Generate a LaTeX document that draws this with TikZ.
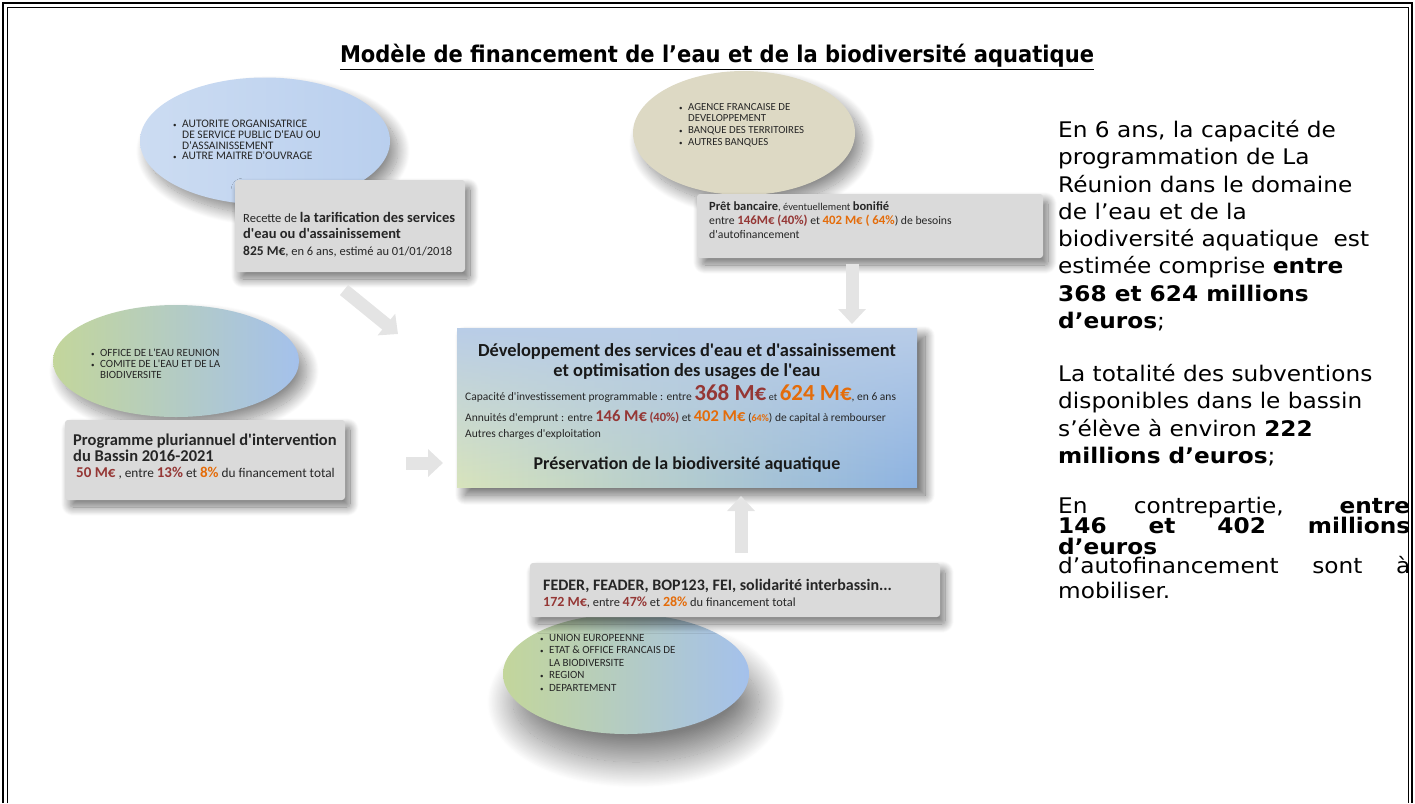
\documentclass[tikz,border=0pt]{standalone}
\usepackage{fontspec}
\setmainfont{Carlito}[Ligatures=TeXOff]
\newfontfamily\verd{DejaVu Sans}[FakeStretch=1.08]
\newfontfamily\verdT{DejaVu Sans}
\usetikzlibrary{arrows.meta,shapes.geometric,shadows.blur,fadings}

\definecolor{rougeM}{HTML}{953735}
\definecolor{orangeM}{HTML}{E46C0A}
\definecolor{grisB}{HTML}{DADADA}
\definecolor{bleuC}{HTML}{CCDCF2}
\definecolor{bleuD}{HTML}{B9CFEE}
\definecolor{beigeC}{HTML}{DDD9C4}
\definecolor{vertC}{HTML}{C3D69B}
\definecolor{bleuE}{HTML}{A4C1EC}
\definecolor{bleuF}{HTML}{8DB3E2}
\definecolor{bleuP}{HTML}{B9CDE8}
\definecolor{vertP}{HTML}{D8E4BC}
\definecolor{flecheC}{HTML}{E4E4E4}

\newcommand{\rg}[1]{\textcolor{rougeM}{\bfseries #1}}
\newcommand{\og}[1]{\textcolor{orangeM}{\bfseries #1}}
\newcommand{\fs}[1]{\fontsize{#1}{#1}\selectfont}
\newcommand{\pu}{\makebox[9pt][l]{\fs{7}•}}
\newcommand{\ind}{\hspace*{9pt}}

\tikzstyle{ellS}=[ellipse, inner sep=0pt, blur shadow={shadow xshift=8pt, shadow yshift=-10pt, shadow blur radius=12pt, shadow blur steps=24, shadow opacity=45}]
\tikzstyle{ellB}=[ellipse, inner sep=0pt, blur shadow={shadow xshift=10pt, shadow yshift=-28pt, shadow blur radius=26pt, shadow blur steps=40, shadow opacity=50}]
\tikzstyle{boxS}=[rectangle, rounded corners=3pt, inner sep=0pt, fill=grisB, blur shadow={shadow xshift=5pt, shadow yshift=-7pt, shadow blur radius=9pt, shadow blur steps=20, shadow opacity=55}]
\tikzstyle{puceS}=[inner sep=0pt, align=left, anchor=north west, text=black!85]
\tikzstyle{txtS}=[inner sep=0pt, align=left, anchor=north west, text=black!85]
\tikzstyle{verdS}=[inner sep=0pt, align=left, anchor=north west, font=\verd\fontsize{21.5}{27.3}\selectfont]
\tikzstyle{fleche}=[draw=flecheC, line width=13pt, -{Triangle[width=27pt,length=15pt]}]

\begin{document}
\begin{tikzpicture}[x=1pt,y=-1pt]
    \useasboundingbox (0,0) rectangle (1415,803);
    % cadre
    \draw[line width=1.8pt] (3,803) -- (3,3) -- (1412,3) -- (1412,803);
    \draw[line width=0.6pt] (7,803) -- (7,7.5) -- (1408,7.5) -- (1408,803);

    \draw (717,57) node[font=\verdT\bfseries\fontsize{23}{23}\selectfont] (titre) {\underline{\resizebox{754pt}{\height}{Modèle de financement de l’eau et de la biodiversité aquatique}}};

    % ellipses
    \draw (265,141) node[ellS, minimum width=250pt, minimum height=127pt, left color=bleuC, right color=bleuD] (autorite) {};
    \draw (744,133) node[ellS, minimum width=222pt, minimum height=124pt, fill=beigeC] (agence) {};
    \draw (176,361) node[ellS, minimum width=246pt, minimum height=112pt, left color=vertC, right color=bleuE] (office) {};
    \draw (626,674) node[ellB, minimum width=246pt, minimum height=120pt, left color=vertC, right color=bleuE] (union) {};

    \draw (173,120) node[puceS, font=\fontsize{11.5}{10.7}\selectfont] (autoriteT) {\pu AUTORITE ORGANISATRICE\\\ind DE SERVICE PUBLIC D'EAU OU\\\ind D'ASSAINISSEMENT\\\pu AUTRE MAITRE D'OUVRAGE};
    \draw (679,103) node[puceS, font=\fontsize{10.8}{11.7}\selectfont] (agenceT) {\pu AGENCE FRANCAISE DE\\\ind DEVELOPPEMENT\\\pu BANQUE DES TERRITOIRES\\\pu AUTRES BANQUES};
    \draw (91,349) node[puceS, font=\fontsize{11}{11}\selectfont] (officeT) {\pu OFFICE DE L'EAU REUNION\\\pu COMITE DE L'EAU ET DE LA\\\ind BIODIVERSITE};
    \draw (540,634) node[puceS, font=\fontsize{11}{12.5}\selectfont] (unionT) {\pu UNION EUROPEENNE\\\pu ETAT \& OFFICE FRANCAIS DE\\\ind LA BIODIVERSITE\\\pu REGION\\\pu DEPARTEMENT};

    % boites grises
    \draw (350,226) node[boxS, minimum width=230pt, minimum height=92pt] (recette) {};
    \draw (870,226) node[boxS, minimum width=346pt, minimum height=64pt] (pret) {};
    \draw (205,460) node[boxS, minimum width=280pt, minimum height=80pt] (programme) {};
    \draw (735,590) node[boxS, minimum width=410pt, minimum height=54pt] (feder) {};

    \draw (243,212) node[txtS, font=\fontsize{12.5}{16.5}\selectfont] (recetteT) {Recette de {\fs{14.5}\bfseries la tarification des services}\\{\fs{14.5}\bfseries d'eau ou d'assainissement}\\{\fs{13.5}\bfseries 825 M€}, en 6 ans, estimé au 01/01/2018};
    \draw (709,202) node[txtS, font=\fontsize{10.5}{14}\selectfont] (pretT) {{\fs{12.5}\bfseries Prêt bancaire}, éventuellement {\fs{12.5}\bfseries bonifié}\\{\fs{11.7}entre {\fs{12.8}\rg{146M€ (40\%)}} et {\fs{12.8}\og{402 M€ ( 64\%}}) de besoins}\\{\fs{11.7}d'autofinancement}};
    \draw (73,434) node[txtS, font=\fontsize{13.3}{15.8}\selectfont] (programmeT) {{\fs{16.5}\bfseries Programme pluriannuel d'intervention}\\{\fs{16.5}\bfseries du Bassin 2016-2021}\\\hspace*{3pt}{\fs{15}\rg{50 M€}} , entre {\fs{15}\rg{13\%}} et {\fs{15}\og{8\%}} du financement total};
    \draw (543,579) node[txtS, font=\fontsize{12.4}{16}\selectfont] (federT) {{\fs{16}\bfseries FEDER, FEADER, BOP123, FEI, solidarité interbassin...}\\{\fs{14}\rg{172 M€}}, entre {\fs{14}\rg{47\%}} et {\fs{14}\og{28\%}} du financement total};

    % boite centrale
    \draw (687,407.5) node[rectangle, inner sep=0pt, minimum width=460pt, minimum height=159pt, left color=vertP, right color=bleuF, blur shadow={shadow xshift=8pt, shadow yshift=-8pt, shadow blur radius=10pt, shadow blur steps=20, shadow opacity=60}] (centre) {};
    \fill[bleuP, path fading=south] (centre.north west) rectangle (centre.south east);

    \draw (687,343) node[inner sep=0pt, align=center, anchor=north, text=black!90, font=\fontsize{18.4}{20}\selectfont\bfseries] (devT) {Développement des services d'eau et d'assainissement\\et optimisation des usages de l'eau};
    \draw (465,384) node[txtS, font=\fontsize{11.5}{21}\selectfont] (capT) {Capacité d'investissement programmable : entre {\fs{23}\rg{368 M€}} {\fs{10}et} {\fs{23}\og{624 M€}}, en 6 ans\\Annuités d'emprunt : entre {\fs{16.5}\rg{146 M€}} {\fs{12.5}\rg{(40\%)}} et {\fs{16.5}\og{402 M€}} ({\fs{10}\og{64\%}}) de capital à rembourser\\[-5pt]Autres charges d'exploitation};
    \draw (687,465) node[inner sep=0pt, text=black!90, font=\fontsize{18}{20}\selectfont\bfseries] (preservT) {Préservation de la biodiversité aquatique};

    % fleches
    \coordinate (f1a) at (344,290);
    \coordinate (f1b) at (398,334);
    \coordinate (f2a) at (852,264);
    \coordinate (f2b) at (852,324);
    \coordinate (f3a) at (406,463);
    \coordinate (f3b) at (443,463);
    \coordinate (f4a) at (741,553);
    \coordinate (f4b) at (741,496);
    \path
        (f1a) edge[fleche] (f1b)
        (f2a) edge[fleche] (f2b)
        (f3a) edge[fleche] (f3b)
        (f4a) edge[fleche] (f4b)
    ;

    % texte de droite
    \draw (1058,120) node[verdS] (p1) {En 6 ans, la capacité de\\programmation de La\\Réunion dans le domaine\\de l’eau et de la\\biodiversité aquatique \ est\\estimée comprise \textbf{entre}\\\textbf{368 et 624 millions}\\\textbf{d’euros};};
    \draw (1058,364) node[verdS] (p2) {La totalité des subventions\\disponibles dans le bassin\\s’élève à environ \textbf{222}\\\textbf{millions d’euros};};
    \draw (1058,497) node[verdS] (p3) {\makebox[352pt][s]{En contrepartie, \textbf{entre}}\\[-7pt]\makebox[352pt][s]{\textbf{146 et 402 millions}}\\[-7pt]\textbf{d’euros}\\[-7.5pt]\makebox[352pt][s]{d’autofinancement sont à}\\[-3pt]mobiliser.};
\end{tikzpicture}
\end{document}
